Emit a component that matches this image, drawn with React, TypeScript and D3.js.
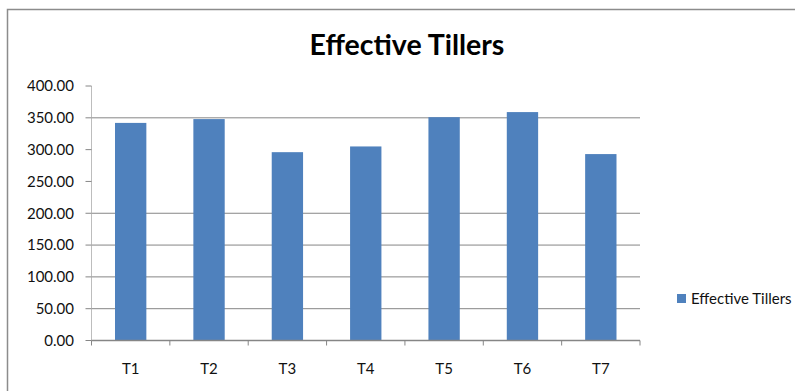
import React from 'react';
import * as d3 from 'd3';

const categories = ['T1', 'T2', 'T3', 'T4', 'T5', 'T6', 'T7'];
const tillers = [342, 348, 296, 305, 351, 359, 293];
const yTicks = [0, 50, 100, 150, 200, 250, 300, 350, 400];
// gridlines that show up in the reference
const gridTicks = [50, 100, 150, 200, 350];
const seriesName = 'Effective Tillers';

const W = 795;
const H = 391;
const plot = { left: 91.5, right: 640, top: 86, bottom: 340.5 };
const font = 'Lato, "Open Sans", sans-serif';

const App: React.FC = () => {
  const x = d3.scaleBand().domain(categories).range([plot.left, plot.right]).paddingInner(0.6).paddingOuter(0.3);
  const xEdge = d3.scaleLinear().domain([0, categories.length]).range([plot.left, plot.right]);
  const y = d3.scaleLinear().domain([0, 400]).range([plot.bottom, plot.top]);

  return (
    <svg width={W} height={H} style={{ position: 'absolute', left: 0, top: 0 }}>
      <rect x={0} y={0} width={W} height={H} fill="#fff" />
      <rect x={7.5} y={9.5} width={W} height={H} fill="none" stroke="#8c8c8c" strokeWidth={1.5} />

      <text x={407} y={55} textAnchor="middle" fontFamily={font} fontWeight="bold" fontSize={28.5} fill="#000">
        {seriesName}
      </text>

      {gridTicks.map((t) => (
        <line key={t} x1={plot.left} x2={plot.right} y1={y(t)} y2={y(t)} stroke="#868686" strokeWidth={1} />
      ))}

      {categories.map((c, i) => (
        <rect
          key={c}
          x={x(c)}
          y={y(tillers[i])}
          width={x.bandwidth()}
          height={plot.bottom - y(tillers[i])}
          fill="#4F81BD"
        />
      ))}

      <line x1={plot.left} x2={plot.left} y1={plot.top} y2={plot.bottom} stroke="#bdbdbd" strokeWidth={1} />
      {yTicks.map((t) => (
        <g key={t}>
          <line x1={plot.left - 6} x2={plot.left} y1={y(t)} y2={y(t)} stroke="#868686" />
          <text x={74} y={y(t)} dy="0.35em" textAnchor="end" fontFamily={font} fontSize={15} fill="#111">
            {t.toFixed(2)}
          </text>
        </g>
      ))}

      <line x1={plot.left} x2={plot.right} y1={plot.bottom} y2={plot.bottom} stroke="#868686" strokeWidth={1.5} />
      {d3.range(categories.length + 1).map((i) => (
        <line key={i} x1={xEdge(i)} x2={xEdge(i)} y1={plot.bottom} y2={plot.bottom + 5} stroke="#868686" />
      ))}
      {categories.map((c) => (
        <text
          key={c}
          x={(x(c) ?? 0) + x.bandwidth() / 2}
          y={369}
          dy="0.35em"
          textAnchor="middle"
          fontFamily={font}
          fontSize={15}
          fill="#111"
        >
          {c}
        </text>
      ))}

      <rect x={677} y={294} width={9} height={9} fill="#4F81BD" />
      <text x={691} y={299} dy="0.35em" fontFamily={font} fontSize={15} fill="#111">
        {seriesName}
      </text>
    </svg>
  );
};

export default App;
